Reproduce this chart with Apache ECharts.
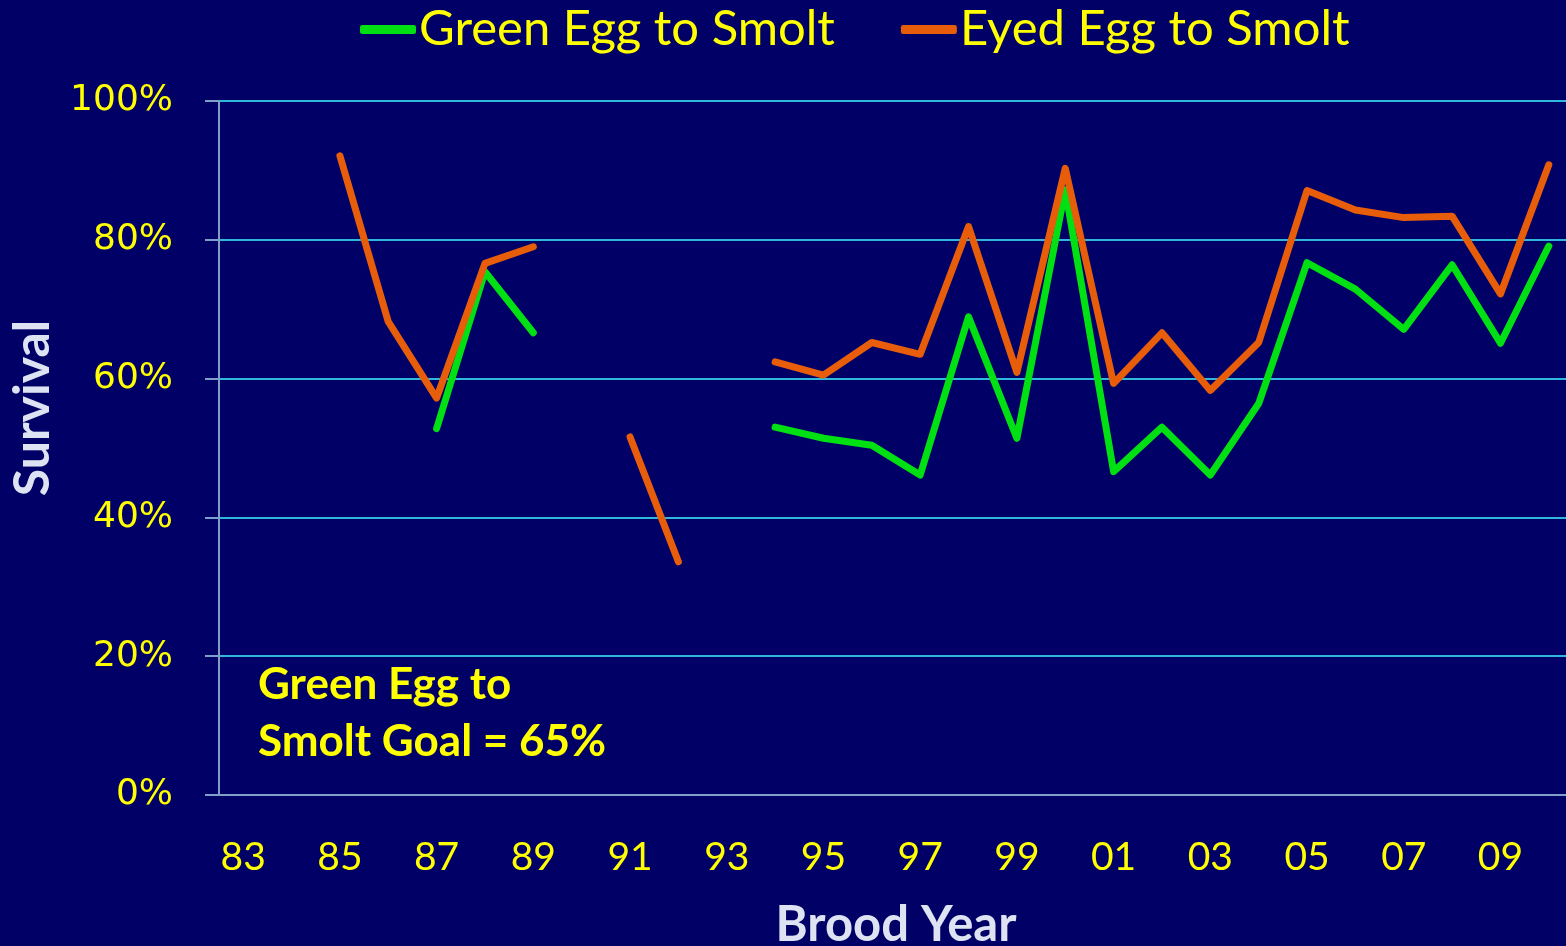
<!DOCTYPE html>
<html>
<head>
<meta charset="utf-8">
<script src="https://cdn.jsdelivr.net/npm/echarts@6/dist/echarts.min.js"></script>
<style>
  html, body { margin: 0; padding: 0; background: #000066; }
  #chart { width: 1566px; height: 946px; }
</style>
</head>
<body>
<div id="chart"></div>
<script>
  // brood years 1983 - 2010
  const years = ['83','84','85','86','87','88','89','90','91','92','93','94','95','96',
                 '97','98','99','00','01','02','03','04','05','06','07','08','09','10']
  const greenEgg = [null,null,null,null,52.8,75.4,66.6,null,null,null,null,53.0,51.4,50.4,
                    46.1,68.9,51.4,87.2,46.6,53.0,46.1,56.4,76.7,72.9,67.1,76.4,65.1,79.1]
  const eyedEgg = [null,null,92.1,68.2,57.2,76.6,79.0,null,51.6,33.6,null,62.4,60.5,65.2,
                   63.5,81.9,60.9,90.3,59.3,66.6,58.3,65.2,87.1,84.3,83.2,83.4,72.2,90.8]
  const yTicks = [0, 20, 40, 60, 80, 100]

  const yellow = '#ffff00'
  const pale = '#dde3f3'
  const catFont = 'Lato, "Open Sans", sans-serif'

  const myChart = echarts.init(document.getElementById('chart'))
  const option = {
    backgroundColor: '#000066',
    animation: false,
    legend: {
      top: 0,
      left: 355,
      itemGap: 66,
      itemWidth: 56,
      itemHeight: 9,
      icon: 'roundRect',
      textStyle: { color: yellow, fontSize: 49, fontFamily: catFont, padding: [0, 0, 0, -2] },
      data: ['Green Egg to Smolt', 'Eyed Egg to Smolt']
    },
    grid: {
      left: 219,
      right: -7,
      top: 101,
      bottom: 151,
      containLabel: false,
      outerBoundsMode: 'none'
    },
    xAxis: {
      type: 'category',
      data: years,
      boundaryGap: true,
      axisLine: { lineStyle: { color: '#7d9fc8', width: 2 } },
      axisTick: { show: false },
      axisLabel: {
        color: yellow,
        fontSize: 39,
        fontFamily: catFont,
        margin: 43,
        interval: 1
      },
      name: 'Brood Year',
      nameLocation: 'middle',
      nameGap: 106,
      nameTextStyle: { color: pale, fontSize: 49, fontWeight: 'bold', fontFamily: catFont }
    },
    yAxis: {
      type: 'value',
      min: yTicks[0],
      max: yTicks[yTicks.length - 1],
      interval: 20,
      axisLine: { show: true, lineStyle: { color: '#7d9fc8', width: 2 } },
      axisTick: { show: true, length: 14, lineStyle: { color: '#7d9fc8', width: 2 } },
      axisLabel: {
        color: yellow,
        fontSize: 36,
        fontFamily: '"DejaVu Sans", sans-serif',
        margin: 46,
        formatter: '{value}%'
      },
      splitLine: { lineStyle: { color: '#2fb8dc', width: 2 } },
    },
    graphic: [
      {
        // y axis title sits above the axis middle in the original
        type: 'text',
        x: 33,
        y: 408,
        rotation: Math.PI / 2,
        style: {
          text: 'Survival',
          fill: pale,
          font: 'bold 50px Lato, "Open Sans", sans-serif',
          align: 'center',
          verticalAlign: 'middle'
        }
      },
      {
        type: 'text',
        left: 258,
        top: 656,
        style: {
          text: 'Green Egg to\nSmolt Goal = 65%',
          fill: yellow,
          font: 'bold 44px Lato, "Open Sans", sans-serif',
          lineHeight: 57
        }
      }
    ],
    series: [
      {
        name: 'Green Egg to Smolt',
        type: 'line',
        data: greenEgg,
        color: '#00e013',
        showSymbol: false,
        connectNulls: false,
        lineStyle: { width: 7, cap: 'round', join: 'round' }
      },
      {
        name: 'Eyed Egg to Smolt',
        type: 'line',
        data: eyedEgg,
        color: '#e85d0a',
        showSymbol: false,
        connectNulls: false,
        lineStyle: { width: 7, cap: 'round', join: 'round' }
      }
    ]
  }
  myChart.setOption(option)
</script>
</body>
</html>
